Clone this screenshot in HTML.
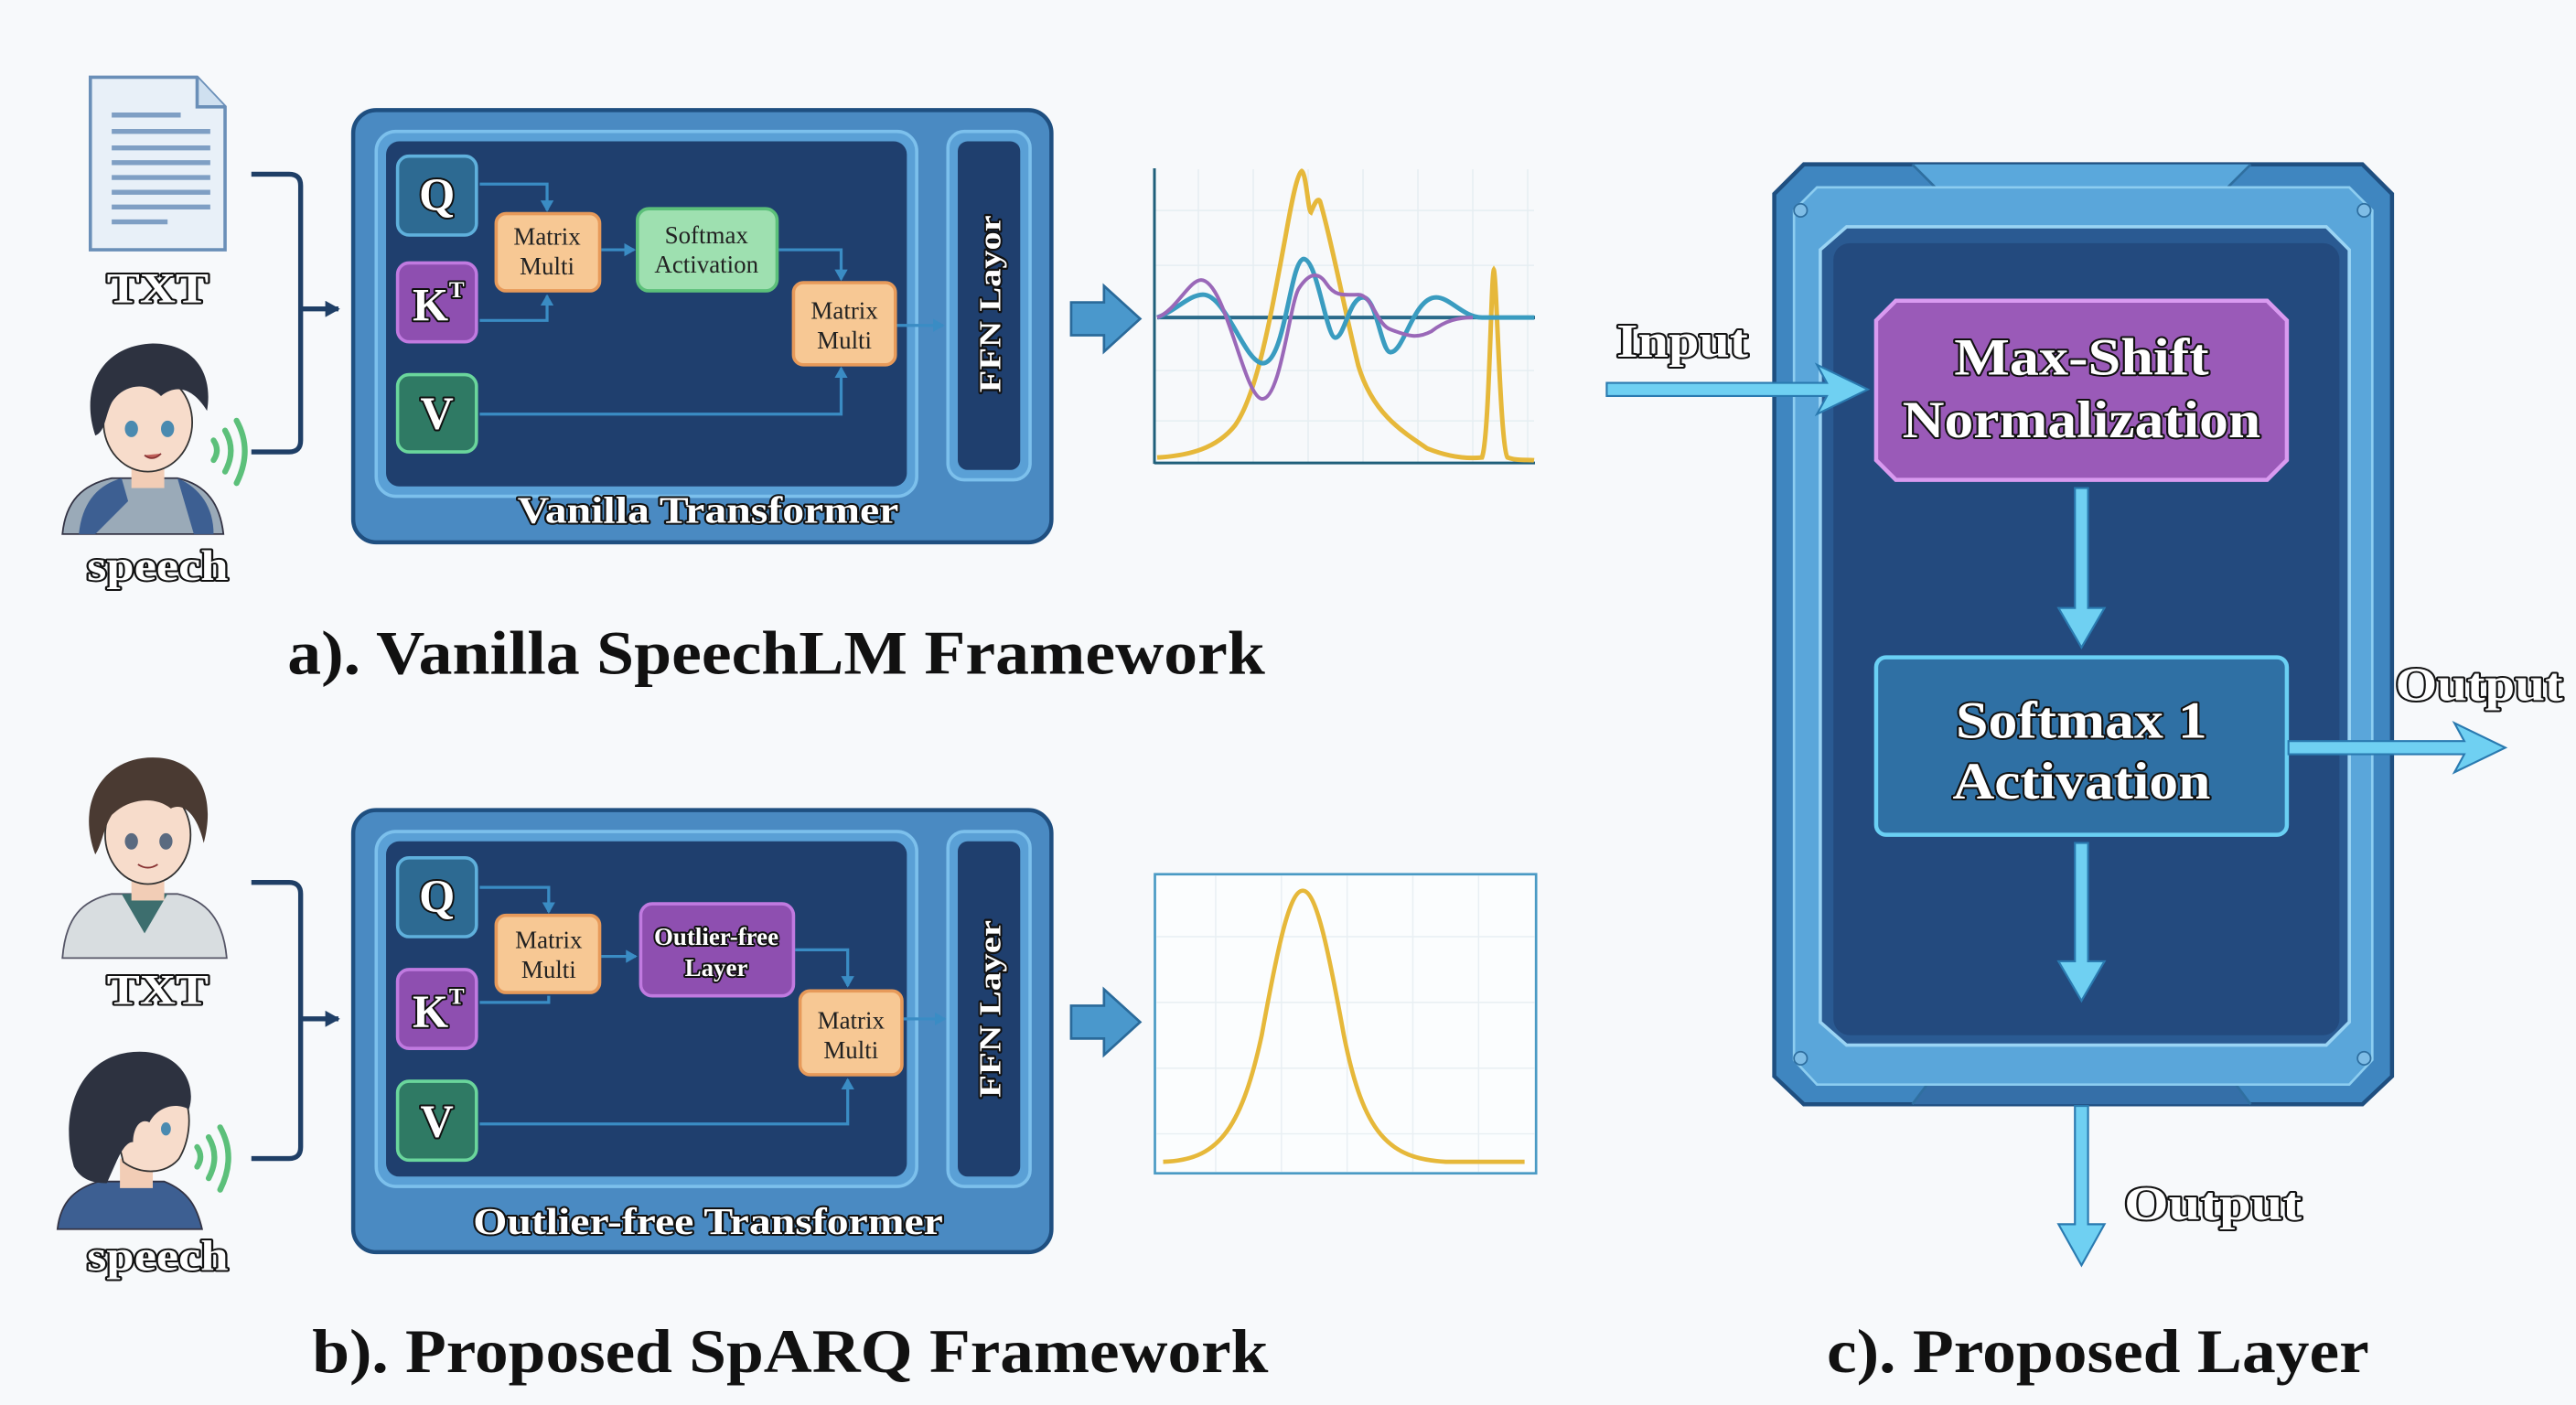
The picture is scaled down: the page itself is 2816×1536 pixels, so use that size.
<!DOCTYPE html>
<html><head><meta charset="utf-8"><style>
html,body{margin:0;padding:0;background:#f7f9fb;}
svg{display:block}
.ol{font-family:"Liberation Serif",serif;font-weight:bold;fill:#fff;stroke:#111;stroke-width:2.2;paint-order:stroke;stroke-linejoin:round}
.cap{font-family:"Liberation Serif",serif;font-weight:bold;fill:#111}
.sm{font-family:"Liberation Serif",serif;fill:#222}
</style></head><body>
<svg width="2816" height="1536" viewBox="0 0 1568 855" preserveAspectRatio="none" xmlns="http://www.w3.org/2000/svg">
<defs>
<marker id="ah" markerWidth="8" markerHeight="8" refX="6" refY="4" orient="auto" markerUnits="userSpaceOnUse"><path d="M0,0 L7,4 L0,8 Z" fill="#3a8cc4"/></marker>
<marker id="ahd" markerWidth="10" markerHeight="10" refX="8" refY="5" orient="auto" markerUnits="userSpaceOnUse"><path d="M0,0 L9,5 L0,10 Z" fill="#1f3f66"/></marker>
<g id="kidA">
  <path d="M0,120 C2,100 12,90 30,86 L70,86 C88,90 96,102 98,120 Z" fill="#9aaab8" stroke="#334" stroke-width="1"/>
  <path d="M10,120 C12,100 22,90 36,86 L40,100 L20,120 Z" fill="#3d5f92"/>
  <path d="M70,86 C84,92 92,104 92,120 L80,120 Z" fill="#3d5f92"/>
  <rect x="42" y="72" width="20" height="20" fill="#f2cdb6"/>
  <ellipse cx="52" cy="52" rx="27" ry="30" fill="#f7dccb" stroke="#333" stroke-width="1"/>
  <path d="M20,60 C10,30 25,5 55,4 C80,4 92,22 88,45 C80,32 70,28 60,36 C50,26 36,30 30,40 C26,48 26,58 20,60 Z" fill="#2d3240"/>
  <ellipse cx="42" cy="56" rx="4" ry="5" fill="#4a8ab0"/><ellipse cx="64" cy="56" rx="4" ry="5" fill="#4a8ab0"/>
  <path d="M50,72 Q55,76 60,71" fill="#c0605a" stroke="#833" stroke-width="1"/>
</g>
</defs>
<rect width="1568" height="855" fill="#f7f9fb"/>

<!-- ===== Panel a ===== -->
<!-- TXT doc -->
<path d="M55,47 L120,47 L137,65 L137,152 L55,152 Z" fill="#e8f0f8" stroke="#6a8fb8" stroke-width="2"/>
<path d="M120,47 L120,65 L137,65" fill="#cfe0f0" stroke="#6a8fb8" stroke-width="2"/>
<g stroke="#7f9fc4" stroke-width="3"><line x1="68" y1="70" x2="110" y2="70"/><line x1="68" y1="80" x2="128" y2="80"/><line x1="68" y1="90" x2="128" y2="90"/><line x1="68" y1="99" x2="128" y2="99"/><line x1="68" y1="108" x2="128" y2="108"/><line x1="68" y1="117" x2="128" y2="117"/><line x1="68" y1="126" x2="128" y2="126"/><line x1="68" y1="135" x2="102" y2="135"/></g>
<text class="ol" x="96" y="184" font-size="26" text-anchor="middle" textLength="62" lengthAdjust="spacingAndGlyphs">TXT</text>
<use href="#kidA" transform="translate(38,205)"/>
<g fill="none" stroke="#5cc07a" stroke-width="3.5" stroke-linecap="round"><path d="M130,268 Q134,274 130,280"/><path d="M137,262 Q144,274 137,287"/><path d="M144,256 Q154,274 144,294"/></g>
<text class="ol" x="96" y="353" font-size="26" text-anchor="middle" textLength="86" lengthAdjust="spacingAndGlyphs">speech</text>
<!-- bracket -->
<path d="M153,106 L176,106 Q183,106 183,113 L183,268 Q183,275 176,275 L153,275" fill="none" stroke="#1f3f66" stroke-width="3"/>
<line x1="183" y1="188" x2="206" y2="188" stroke="#1f3f66" stroke-width="3" marker-end="url(#ahd)"/>

<!-- transformer a -->
<rect x="215" y="67" width="425" height="263" rx="14" fill="#4a8ac2" stroke="#1f4f80" stroke-width="2.5"/>
<rect x="229" y="80" width="329" height="222" rx="12" fill="#5aa0d6" stroke="#7cc0ec" stroke-width="2"/>
<rect x="235" y="86" width="317" height="210" rx="8" fill="#1f3f6e"/>
<rect x="577" y="80" width="50" height="212" rx="10" fill="#5aa0d6" stroke="#7cc0ec" stroke-width="2"/>
<rect x="583" y="86" width="38" height="200" rx="6" fill="#1f3f6e"/>
<text class="ol" x="0" y="0" font-size="19" text-anchor="middle" transform="translate(609,185) rotate(-90)" textLength="108" lengthAdjust="spacingAndGlyphs">FFN Layor</text>
<text class="ol" x="431" y="318" font-size="23" text-anchor="middle" textLength="232" lengthAdjust="spacingAndGlyphs">Vanilla Transformer</text>
<!-- QKV a -->
<rect x="242" y="95" width="48" height="48" rx="7" fill="#2d6a92" stroke="#5fb0dc" stroke-width="2"/>
<text class="ol" x="266" y="128" font-size="28" text-anchor="middle">Q</text>
<rect x="242" y="160" width="48" height="48" rx="7" fill="#8e4fb0" stroke="#c07ae0" stroke-width="2"/>
<text class="ol" x="262" y="195" font-size="28" text-anchor="middle">K</text><text class="ol" x="278" y="181" font-size="14" text-anchor="middle">T</text>
<rect x="242" y="228" width="48" height="47" rx="7" fill="#2f7a64" stroke="#6ad69c" stroke-width="2"/>
<text class="ol" x="266" y="261" font-size="28" text-anchor="middle">V</text>
<!-- arrows a -->
<g fill="none" stroke="#3a8cc4" stroke-width="1.8">
<path d="M292,112 L333,112 L333,128" marker-end="url(#ah)"/>
<path d="M292,195 L333,195 L333,180" marker-end="url(#ah)"/>
<path d="M366,152 L386,152" marker-end="url(#ah)"/>
<path d="M474,152 L512,152 L512,170" marker-end="url(#ah)"/>
<path d="M292,252 L512,252 L512,224" marker-end="url(#ah)"/>
<path d="M546,198 L574,198" marker-end="url(#ah)"/>
</g>
<rect x="302" y="130" width="63" height="47" rx="6" fill="#f7c894" stroke="#e79a5a" stroke-width="2"/>
<text class="sm" x="333" y="149" font-size="15" text-anchor="middle">Matrix</text><text class="sm" x="333" y="167" font-size="15" text-anchor="middle">Multi</text>
<rect x="388" y="127" width="85" height="50" rx="7" fill="#9ee0b0" stroke="#5cc07a" stroke-width="2"/>
<text class="sm" x="430" y="148" font-size="15" text-anchor="middle">Softmax</text><text class="sm" x="430" y="166" font-size="15" text-anchor="middle">Activation</text>
<rect x="483" y="172" width="62" height="50" rx="6" fill="#f7c894" stroke="#e79a5a" stroke-width="2"/>
<text class="sm" x="514" y="194" font-size="15" text-anchor="middle">Matrix</text><text class="sm" x="514" y="212" font-size="15" text-anchor="middle">Multi</text>

<!-- big arrow a -->
<path d="M652,184 L672,184 L672,174 L694,194 L672,214 L672,204 L652,204 Z" fill="#4a98cc" stroke="#2a6a9a" stroke-width="1.5"/>
<!-- chart a -->
<g transform="scale(0.55682)">
<g stroke="#e6eef2" stroke-width="1.5">
<line x1="1310" y1="185" x2="1310" y2="505"/><line x1="1370" y1="185" x2="1370" y2="505"/><line x1="1430" y1="185" x2="1430" y2="505"/><line x1="1490" y1="185" x2="1490" y2="505"/><line x1="1550" y1="185" x2="1550" y2="505"/><line x1="1610" y1="185" x2="1610" y2="505"/><line x1="1670" y1="185" x2="1670" y2="505"/>
<line x1="1262" y1="230" x2="1677" y2="230"/><line x1="1262" y1="290" x2="1677" y2="290"/><line x1="1262" y1="405" x2="1677" y2="405"/><line x1="1262" y1="460" x2="1677" y2="460"/>
</g>
<line x1="1262" y1="184" x2="1262" y2="507" stroke="#1f5f7a" stroke-width="3"/>
<line x1="1262" y1="506" x2="1678" y2="506" stroke="#1f5f7a" stroke-width="3"/>
<line x1="1265" y1="347" x2="1678" y2="347" stroke="#2a6a8a" stroke-width="4"/>
<path d="M1265,500 C1300,498 1330,490 1350,465 C1375,430 1390,340 1405,260 C1412,220 1418,190 1423,187 C1428,190 1430,230 1433,232 C1436,225 1440,215 1443,220 C1455,260 1470,340 1485,400 C1500,450 1530,470 1560,490 C1580,498 1600,502 1620,500 C1628,480 1630,300 1633,295 C1636,300 1640,490 1648,500 C1660,504 1670,502 1677,503" fill="none" stroke="#e6b83a" stroke-width="5"/>
<path d="M1265,347 C1285,340 1300,322 1315,322 C1340,322 1360,395 1380,397 C1405,398 1410,285 1425,283 C1440,283 1450,370 1460,369 C1470,368 1475,325 1490,325 C1505,325 1510,385 1520,385 C1535,385 1545,325 1570,325 C1585,325 1600,347 1620,347 L1677,347" fill="none" stroke="#3a9cc0" stroke-width="5"/>
<path d="M1265,347 C1285,340 1300,306 1313,306 C1340,306 1360,436 1380,436 C1400,436 1410,330 1420,315 C1430,300 1440,295 1450,310 C1460,325 1470,322 1485,322 C1500,322 1505,355 1520,360 C1540,368 1550,370 1565,362 C1580,350 1595,347 1610,347" fill="none" stroke="#9a68b8" stroke-width="4"/>
</g>
<text class="cap" x="175" y="410" font-size="38" textLength="595" lengthAdjust="spacingAndGlyphs">a). Vanilla SpeechLM Framework</text>

<!-- ===== Panel b ===== -->
<g transform="translate(38,458)">
  <path d="M0,125 C2,100 12,90 30,86 L70,86 C88,90 98,102 100,125 Z" fill="#d8dde0" stroke="#556" stroke-width="1"/>
  <path d="M36,86 L50,110 L64,86 Z" fill="#3d6e6e"/>
  <rect x="42" y="72" width="20" height="18" fill="#f2cdb6"/>
  <ellipse cx="52" cy="50" rx="26" ry="30" fill="#f7dccb" stroke="#333" stroke-width="1"/>
  <path d="M20,62 C8,30 25,3 55,3 C82,3 94,25 86,55 C82,38 74,30 66,34 C56,26 40,28 30,38 C25,46 24,56 20,62 Z" fill="#4a3a32"/>
  <ellipse cx="42" cy="54" rx="4" ry="5" fill="#5a6a80"/><ellipse cx="63" cy="54" rx="4" ry="5" fill="#5a6a80"/>
  <path d="M46,68 Q52,72 58,68" fill="none" stroke="#833" stroke-width="1"/>
</g>
<text class="ol" x="96" y="611" font-size="26" text-anchor="middle" textLength="62" lengthAdjust="spacingAndGlyphs">TXT</text>
<g transform="translate(35,635)">
  <path d="M0,113 C2,95 12,88 25,84 L65,84 C80,90 85,100 88,113 Z" fill="#3d5f92" stroke="#334" stroke-width="1"/>
  <rect x="38" y="70" width="20" height="18" fill="#f2cdb6"/>
  <path d="M30,30 C40,15 70,15 78,35 C82,45 80,60 74,70 C66,80 50,80 40,72 Z" fill="#f7dccb" stroke="#333" stroke-width="1"/>
  <path d="M10,75 C0,40 15,5 50,5 C75,5 85,25 80,40 C70,35 60,40 56,48 C50,45 46,52 46,60 C40,60 36,72 30,85 C20,85 14,82 10,75 Z" fill="#2d3240"/>
  <ellipse cx="66" cy="52" rx="3" ry="4" fill="#4a8ab0"/>
</g>
<g fill="none" stroke="#5cc07a" stroke-width="3.5" stroke-linecap="round"><path d="M120,698 Q124,704 120,710"/><path d="M127,692 Q134,704 127,717"/><path d="M134,686 Q144,704 134,724"/></g>
<text class="ol" x="96" y="773" font-size="26" text-anchor="middle" textLength="86" lengthAdjust="spacingAndGlyphs">speech</text>
<path d="M153,537 L176,537 Q183,537 183,544 L183,698 Q183,705 176,705 L153,705" fill="none" stroke="#1f3f66" stroke-width="3"/>
<line x1="183" y1="620" x2="206" y2="620" stroke="#1f3f66" stroke-width="3" marker-end="url(#ahd)"/>

<rect x="215" y="493" width="425" height="269" rx="14" fill="#4a8ac2" stroke="#1f4f80" stroke-width="2.5"/>
<rect x="229" y="506" width="329" height="216" rx="12" fill="#5aa0d6" stroke="#7cc0ec" stroke-width="2"/>
<rect x="235" y="512" width="317" height="204" rx="8" fill="#1f3f6e"/>
<rect x="577" y="506" width="50" height="216" rx="10" fill="#5aa0d6" stroke="#7cc0ec" stroke-width="2"/>
<rect x="583" y="512" width="38" height="204" rx="6" fill="#1f3f6e"/>
<text class="ol" x="0" y="0" font-size="19" text-anchor="middle" transform="translate(609,614) rotate(-90)" textLength="108" lengthAdjust="spacingAndGlyphs">FFN Layer</text>
<text class="ol" x="431" y="751" font-size="23" text-anchor="middle" textLength="286" lengthAdjust="spacingAndGlyphs">Outlier-free Transformer</text>
<rect x="242" y="522" width="48" height="48" rx="7" fill="#2d6a92" stroke="#5fb0dc" stroke-width="2"/>
<text class="ol" x="266" y="555" font-size="28" text-anchor="middle">Q</text>
<rect x="242" y="590" width="48" height="48" rx="7" fill="#8e4fb0" stroke="#c07ae0" stroke-width="2"/>
<text class="ol" x="262" y="625" font-size="28" text-anchor="middle">K</text><text class="ol" x="278" y="611" font-size="14" text-anchor="middle">T</text>
<rect x="242" y="658" width="48" height="48" rx="7" fill="#2f7a64" stroke="#6ad69c" stroke-width="2"/>
<text class="ol" x="266" y="692" font-size="28" text-anchor="middle">V</text>
<g fill="none" stroke="#3a8cc4" stroke-width="1.8">
<path d="M292,540 L334,540 L334,555" marker-end="url(#ah)"/>
<path d="M292,610 L334,610 L334,606" />
<path d="M366,582 L387,582" marker-end="url(#ah)"/>
<path d="M484,578 L516,578 L516,600" marker-end="url(#ah)"/>
<path d="M292,684 L516,684 L516,657" marker-end="url(#ah)"/>
<path d="M550,620 L575,620" marker-end="url(#ah)"/>
</g>
<rect x="302" y="557" width="63" height="47" rx="6" fill="#f7c894" stroke="#e79a5a" stroke-width="2"/>
<text class="sm" x="334" y="577" font-size="15" text-anchor="middle">Matrix</text><text class="sm" x="334" y="595" font-size="15" text-anchor="middle">Multi</text>
<rect x="390" y="550" width="93" height="56" rx="7" fill="#8e4fb0" stroke="#c07ae0" stroke-width="2"/>
<text class="ol" x="436" y="575" font-size="15" text-anchor="middle" stroke-width="1.5">Outlier-free</text><text class="ol" x="436" y="594" font-size="15" text-anchor="middle" stroke-width="1.5">Layer</text>
<rect x="487" y="603" width="62" height="51" rx="6" fill="#f7c894" stroke="#e79a5a" stroke-width="2"/>
<text class="sm" x="518" y="626" font-size="15" text-anchor="middle">Matrix</text><text class="sm" x="518" y="644" font-size="15" text-anchor="middle">Multi</text>
<path d="M652,612 L672,612 L672,602 L694,622 L672,642 L672,632 L652,632 Z" fill="#4a98cc" stroke="#2a6a9a" stroke-width="1.5"/>
<rect x="703" y="532" width="232" height="182" fill="#fbfdfe" stroke="#4a9ac4" stroke-width="1.5"/>
<g stroke="#e8eff3" stroke-width="0.8"><line x1="740" y1="533" x2="740" y2="713"/><line x1="780" y1="533" x2="780" y2="713"/><line x1="820" y1="533" x2="820" y2="713"/><line x1="860" y1="533" x2="860" y2="713"/><line x1="900" y1="533" x2="900" y2="713"/><line x1="704" y1="570" x2="934" y2="570"/><line x1="704" y1="610" x2="934" y2="610"/><line x1="704" y1="650" x2="934" y2="650"/><line x1="704" y1="690" x2="934" y2="690"/></g>
<path d="M708,707 C740,706 755,690 768,630 C778,575 785,542 793,542 C801,542 808,575 818,630 C830,690 845,705 880,707 L928,707" fill="none" stroke="#e6b83a" stroke-width="2.6"/>
<text class="cap" x="190" y="835" font-size="38" textLength="582" lengthAdjust="spacingAndGlyphs">b). Proposed SpARQ Framework</text>

<!-- ===== Panel c ===== -->
<path d="M1080,118 L1098,100 L1438,100 L1456,118 L1456,655 L1438,672 L1098,672 L1080,655 Z" fill="#3f86c0" stroke="#1f4f80" stroke-width="2.5"/>
<path d="M1164,100 L1182,118 L1352,118 L1370,100" fill="#5aa8dc" stroke="#2f6fa0" stroke-width="1.5"/>
<path d="M1164,672 L1182,648 L1352,648 L1370,672" fill="#356fa8" stroke="#2f6fa0" stroke-width="1.5"/>
<path d="M1092,128 L1106,114 L1430,114 L1444,128 L1444,645 L1430,660 L1106,660 L1092,645 Z" fill="#5aa6da" stroke="#8ccdf0" stroke-width="1.5"/>
<path d="M1108,152 L1124,138 L1416,138 L1430,152 L1430,622 L1416,636 L1124,636 L1108,622 Z" fill="#2a5a92" stroke="#9ad4f4" stroke-width="2"/>
<rect x="1116" y="148" width="308" height="482" rx="10" fill="#234a7e"/>
<g fill="#7fbde6" stroke="#2f6fa0"><circle cx="1096" cy="128" r="4"/><circle cx="1439" cy="128" r="4"/><circle cx="1096" cy="644" r="4"/><circle cx="1439" cy="644" r="4"/></g>
<path d="M1142,195 L1154,183 L1380,183 L1392,195 L1392,280 L1380,292 L1154,292 L1142,280 Z" fill="#9a5ab8" stroke="#d99af0" stroke-width="2.5"/>
<text class="ol" x="1267" y="228" font-size="32" text-anchor="middle" stroke-width="3" textLength="155" lengthAdjust="spacingAndGlyphs">Max-Shift</text>
<text class="ol" x="1267" y="266" font-size="32" text-anchor="middle" stroke-width="3" textLength="218" lengthAdjust="spacingAndGlyphs">Normalization</text>
<rect x="1142" y="400" width="250" height="108" rx="6" fill="#2f70a4" stroke="#6ad0f4" stroke-width="2.5"/>
<text class="ol" x="1267" y="449" font-size="32" text-anchor="middle" stroke-width="3" textLength="153" lengthAdjust="spacingAndGlyphs">Softmax 1</text>
<text class="ol" x="1267" y="486" font-size="32" text-anchor="middle" stroke-width="3" textLength="157" lengthAdjust="spacingAndGlyphs">Activation</text>
<g fill="#6fd0f2" stroke="#2a7ab0" stroke-width="1.2">
<path d="M1263,297 L1271,297 L1271,370 L1281,370 L1267,394 L1253,370 L1263,370 Z"/>
<path d="M1263,513 L1271,513 L1271,585 L1281,585 L1267,609 L1253,585 L1263,585 Z"/>
<path d="M1263,673 L1271,673 L1271,745 L1281,745 L1267,770 L1253,745 L1263,745 Z"/>
<path d="M978,233 L1112,233 L1106,222 L1137,237 L1106,252 L1112,241 L978,241 Z"/>
<path d="M1393,451 L1500,451 L1494,440 L1525,455 L1494,470 L1500,459 L1393,459 Z"/>
</g>
<text class="ol" x="1024" y="217" font-size="29" text-anchor="middle" stroke-width="3" textLength="80" lengthAdjust="spacingAndGlyphs">Input</text>
<text class="ol" x="1509" y="426" font-size="29" text-anchor="middle" stroke-width="3" textLength="102" lengthAdjust="spacingAndGlyphs">Output</text>
<text class="ol" x="1347" y="742" font-size="29" text-anchor="middle" stroke-width="3" textLength="108" lengthAdjust="spacingAndGlyphs">Output</text>
<text class="cap" x="1112" y="835" font-size="38" textLength="330" lengthAdjust="spacingAndGlyphs">c). Proposed Layer</text>
</svg>
</body></html>
